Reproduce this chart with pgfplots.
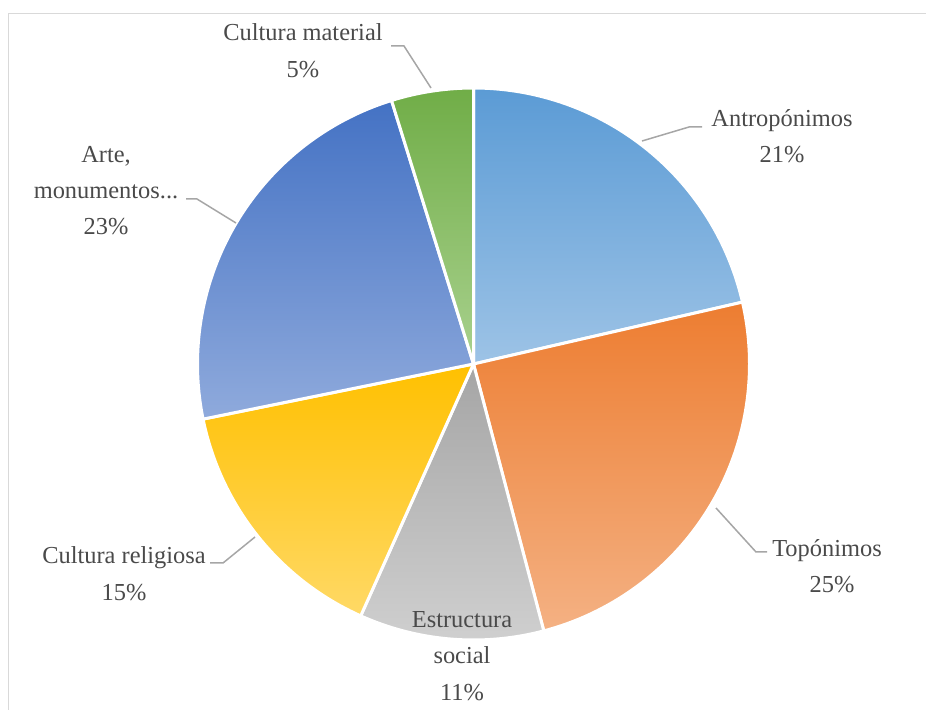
\documentclass[border=0pt]{standalone}
\usepackage{pgfplots}
\pgfplotsset{compat=1.18}
\usepackage{pgfplotstable}
\usepackage{fontspec}
\setmainfont{Liberation Serif}

\definecolor{txt}{HTML}{4A4A4A}
\definecolor{lead}{HTML}{A6A6A6}
\definecolor{frame}{HTML}{D9D9D9}
\definecolor{bluT}{HTML}{5B9BD5}\definecolor{bluB}{HTML}{9DC3E6}
\definecolor{orT}{HTML}{ED7D31}\definecolor{orB}{HTML}{F4B183}
\definecolor{grT}{HTML}{A5A5A5}\definecolor{grB}{HTML}{CFCFCF}
\definecolor{yeT}{HTML}{FFC000}\definecolor{yeB}{HTML}{FFD966}
\definecolor{dbT}{HTML}{4472C4}\definecolor{dbB}{HTML}{8FAADC}
\definecolor{gnT}{HTML}{70AD47}\definecolor{gnB}{HTML}{A9D18E}

% shares (labels show them rounded)
\pgfplotstableread{
label value
Antroponimos 21.4
Toponimos 24.5
Estructura 10.8
Religiosa 15.1
Arte 23.4
Material 4.8
}\piedata

\begin{document}
\begin{tikzpicture}
\pgfplotstablegetelem{0}{value}\of\piedata \let\vA\pgfplotsretval
\pgfplotstablegetelem{1}{value}\of\piedata \let\vB\pgfplotsretval
\pgfplotstablegetelem{2}{value}\of\piedata \let\vC\pgfplotsretval
\pgfplotstablegetelem{3}{value}\of\piedata \let\vD\pgfplotsretval
\pgfplotstablegetelem{4}{value}\of\piedata \let\vE\pgfplotsretval
\pgfplotstablegetelem{5}{value}\of\piedata \let\vF\pgfplotsretval
\pgfmathsetmacro\aA{90}
\pgfmathsetmacro\aB{\aA-3.6*\vA}
\pgfmathsetmacro\aC{\aB-3.6*\vB}
\pgfmathsetmacro\aD{\aC-3.6*\vC}
\pgfmathsetmacro\aE{\aD-3.6*\vD}
\pgfmathsetmacro\aF{\aE-3.6*\vE}
\pgfmathsetmacro\aG{\aF-3.6*\vF}
\begin{axis}[name=ax,
  width=926bp,height=710bp,scale only axis,
  xmin=0,xmax=926,ymin=0,ymax=710,y dir=reverse,
  hide axis,clip=false]
\draw[frame,line width=1.5bp] (axis cs:8.5,13.5) rectangle (axis cs:960,760);
\pgfplotsset{slice/.style={draw=white,line width=3bp,line join=round,samples=90,variable=\t}}
\addplot[slice,top color=bluT,bottom color=bluB,domain=\aB:\aA] ({473.5+276*cos(\t)},{364-276*sin(\t)}) -- (axis cs:473.5,364) -- cycle;
\addplot[slice,top color=orT,bottom color=orB,domain=\aC:\aB] ({473.5+276*cos(\t)},{364-276*sin(\t)}) -- (axis cs:473.5,364) -- cycle;
\addplot[slice,top color=grT,bottom color=grB,domain=\aD:\aC] ({473.5+276*cos(\t)},{364-276*sin(\t)}) -- (axis cs:473.5,364) -- cycle;
\addplot[slice,top color=yeT,bottom color=yeB,domain=\aE:\aD] ({473.5+276*cos(\t)},{364-276*sin(\t)}) -- (axis cs:473.5,364) -- cycle;
\addplot[slice,top color=dbT,bottom color=dbB,domain=\aF:\aE] ({473.5+276*cos(\t)},{364-276*sin(\t)}) -- (axis cs:473.5,364) -- cycle;
\addplot[slice,top color=gnT,bottom color=gnB,domain=\aG:\aF] ({473.5+276*cos(\t)},{364-276*sin(\t)}) -- (axis cs:473.5,364) -- cycle;
% leader lines
\addplot[lead,line width=1.5bp] coordinates {(391,46) (404,46) (431,88)};
\addplot[lead,line width=1.5bp] coordinates {(702,127) (689,127) (642,141)};
\addplot[lead,line width=1.5bp] coordinates {(767,552) (756,552) (716,508)};
\addplot[lead,line width=1.5bp] coordinates {(210,563) (223,563) (255,537)};
\addplot[lead,line width=1.5bp] coordinates {(186,199) (197,199) (236,223)};
% labels
\tikzset{lab/.style={anchor=base,text=txt,inner sep=0pt,font=\fontsize{24.5}{30}\selectfont}}
\node[lab] at (axis cs:303,41) {Cultura material};
\node[lab] at (axis cs:303,78) {5\%};
\node[lab] at (axis cs:782,127) {Antropónimos};
\node[lab] at (axis cs:782,163) {21\%};
\node[lab] at (axis cs:827,556) {Topónimos};
\node[lab] at (axis cs:832,592) {25\%};
\node[lab] at (axis cs:462,627) {Estructura};
\node[lab] at (axis cs:462,663) {social};
\node[lab] at (axis cs:462,700) {11\%};
\node[lab] at (axis cs:124,563) {Cultura religiosa};
\node[lab] at (axis cs:124,600) {15\%};
\node[lab] at (axis cs:106,163) {Arte,};
\node[lab] at (axis cs:106,199) {monumentos...};
\node[lab] at (axis cs:106,235) {23\%};
\end{axis}
\pgfresetboundingbox
\path[use as bounding box] (ax.south west) rectangle (ax.north east);
\end{tikzpicture}
\end{document}
